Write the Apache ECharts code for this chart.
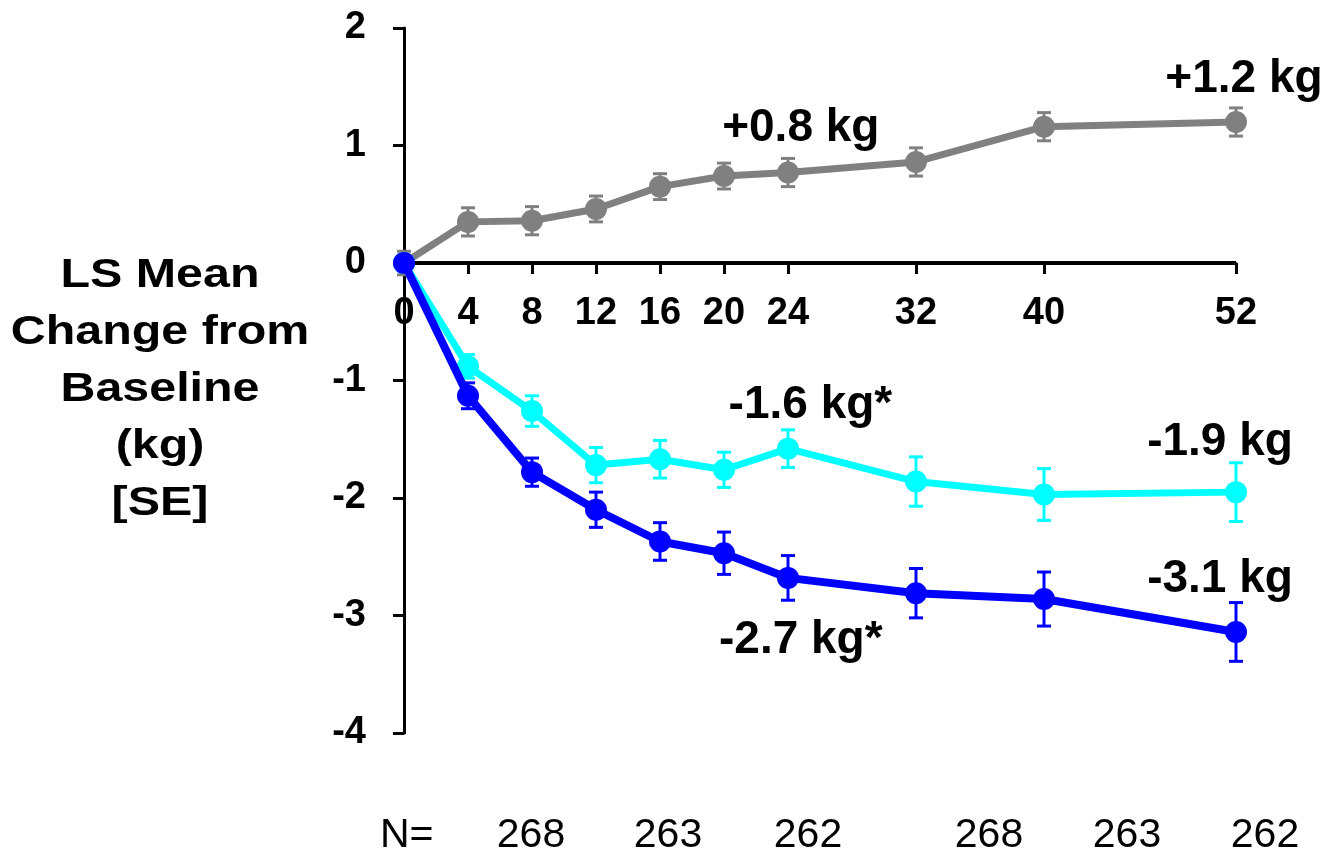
<!DOCTYPE html>
<html>
<head>
<meta charset="utf-8">
<script src="https://cdn.jsdelivr.net/npm/echarts@6/dist/echarts.min.js"></script>
<style>html,body{margin:0;padding:0;background:#fff;}#c{width:1330px;height:857px;}</style>
</head>
<body>
<div id="c"></div>
<script>
// ---- data ----
const weeks = [0, 4, 8, 12, 16, 20, 24, 32, 40, 52];
const tickWeeks = [0, 4, 8, 12, 16, 20, 24, 32, 40, 52];
const grayMean = [0, 0.35, 0.36, 0.46, 0.65, 0.74, 0.77, 0.86, 1.16, 1.20];
const graySE   = [0.1, 0.12, 0.12, 0.11, 0.11, 0.11, 0.12, 0.12, 0.12, 0.12];
const cyanMean = [0, -0.88, -1.26, -1.72, -1.67, -1.76, -1.58, -1.86, -1.97, -1.95];
const cyanSE   = [0, 0.10, 0.13, 0.15, 0.16, 0.15, 0.16, 0.21, 0.22, 0.25];
const blueMean = [0, -1.13, -1.78, -2.10, -2.37, -2.47, -2.68, -2.81, -2.86, -3.14];
const blueSE   = [0, 0.11, 0.12, 0.15, 0.16, 0.18, 0.19, 0.21, 0.23, 0.25];
// annotations: [week, value, text]
const annotations = [
  [24.8, 1.15, '+0.8 kg'],
  [52.5, 1.56, '+1.2 kg'],
  [25.4, -1.21, '-1.6 kg*'],
  [51.0, -1.53, '-1.9 kg'],
  [51.0, -2.69, '-3.1 kg'],
  [24.8, -3.21, '-2.7 kg*']
];
const yTitle = ['LS Mean', 'Change from', 'Baseline', '(kg)', '[SE]'];
const nLabel = 'N=';
const nValues = ['268', '263', '262', '268', '263', '262'];
const weekRange = [0, 52];

const FONT = '"Liberation Sans", Arial, sans-serif';
const colors = {gray: '#808080', cyan: '#00FFFF', blue: '#0000FF'};

function lineSeries(name, mean, color, z, width) {
  return {
    name: name, type: 'line', z: z, xAxisIndex: 0, yAxisIndex: 0,
    data: weeks.map((w, i) => [w, mean[i]]),
    symbol: 'circle', symbolSize: 22, showSymbol: true,
    itemStyle: {color: color},
    lineStyle: {color: color, width: width},
    emphasis: {disabled: true}, silent: true
  };
}
function errSeries(mean, se, color, z) {
  return {
    type: 'custom', z: z, silent: true, xAxisIndex: 0, yAxisIndex: 0,
    data: weeks.map((w, i) => [w, mean[i], se[i]]),
    renderItem: function (params, api) {
      const x = api.value(0), y = api.value(1), s = api.value(2);
      if (!s) return null;
      const t = api.coord([x, y + s]);
      const b = api.coord([x, y - s]);
      const hw = 7;
      const st = {stroke: color, lineWidth: 3};
      return {
        type: 'group',
        children: [
          {type: 'line', shape: {x1: t[0], y1: t[1], x2: b[0], y2: b[1]}, style: st},
          {type: 'line', shape: {x1: t[0] - hw, y1: t[1], x2: t[0] + hw, y2: t[1]}, style: st},
          {type: 'line', shape: {x1: b[0] - hw, y1: b[1], x2: b[0] + hw, y2: b[1]}, style: st}
        ]
      };
    }
  };
}

const Y_MIN = -4, Y_MAX = 2;
const GRID_TOP = 28, GRID_BOTTOM_PX = 733; // layout of plotting area
const zeroPx = GRID_TOP + (GRID_BOTTOM_PX - GRID_TOP) * (Y_MAX - 0) / (Y_MAX - Y_MIN);

const chart = echarts.init(document.getElementById('c'), null, {renderer: 'canvas'});
const option = {
  animation: false,
  backgroundColor: '#ffffff',
  grid: [
    {left: 404, right: 94, top: GRID_TOP, bottom: 857 - GRID_BOTTOM_PX, containLabel: false},
    // auxiliary grid whose bottom edge sits on y = 0, used for the week axis
    {left: 404, right: 94, top: GRID_TOP, bottom: 857 - zeroPx, containLabel: false}
  ],
  xAxis: [
    {
      gridIndex: 0, type: 'value', min: 0, max: 52,
      axisLine: {show: false}, axisTick: {show: false}, axisLabel: {show: false}, splitLine: {show: false}
    },
    {
      gridIndex: 1, type: 'value', min: 0, max: 52, position: 'bottom',
      axisLine: {show: true, onZero: false, lineStyle: {color: '#000', width: 3}},
      axisTick: {show: true, customValues: tickWeeks, length: 11, lineStyle: {color: '#000', width: 3}},
      axisLabel: {show: true, customValues: tickWeeks, margin: 32, color: '#000',
        fontFamily: FONT, fontWeight: 'bold', fontSize: 38},
      splitLine: {show: false}
    }
  ],
  yAxis: [
    {
      gridIndex: 0, type: 'value', min: Y_MIN, max: Y_MAX, interval: 1,
      axisLine: {show: true, onZero: false, lineStyle: {color: '#000', width: 3}},
      axisTick: {show: true, length: 11, lineStyle: {color: '#000', width: 3}},
      axisLabel: {show: true, margin: 38, color: '#000', fontFamily: FONT, fontWeight: 'bold', fontSize: 38},
      splitLine: {show: false}
    },
    {
      gridIndex: 1, type: 'value', min: 0, max: Y_MAX,
      axisLine: {show: false}, axisTick: {show: false}, axisLabel: {show: false}, splitLine: {show: false}
    }
  ],
  series: [
    {
      // horizontal zero line (the week axis line), drawn through the grid's scales
      type: 'custom', z: 1, silent: true, xAxisIndex: 0, yAxisIndex: 0,
      data: [[weekRange[0], weekRange[1], 0]],
      renderItem: function (params, api) {
        const a = api.coord([api.value(0), api.value(2)]);
        const b = api.coord([api.value(1), api.value(2)]);
        return {type: 'line', shape: {x1: a[0], y1: a[1], x2: b[0], y2: b[1]},
          style: {stroke: '#000000', lineWidth: 4}};
      }
    },
    lineSeries('Gray', grayMean, colors.gray, 2, 7),
    errSeries(grayMean, graySE, colors.gray, 3),
    lineSeries('Cyan', cyanMean, colors.cyan, 4, 7),
    errSeries(cyanMean, cyanSE, colors.cyan, 5),
    lineSeries('Blue', blueMean, colors.blue, 6, 8),
    errSeries(blueMean, blueSE, colors.blue, 7)
  ]
};
chart.setOption(option);

// text overlays
const graphics = [];
annotations.forEach(a => {
  const p = chart.convertToPixel({gridIndex: 0}, [a[0], a[1]]);
  graphics.push({
    type: 'text', x: p[0], y: p[1], z: 20, silent: true,
    style: {text: a[2], fill: '#000', font: 'bold 46px ' + FONT, textAlign: 'center', textVerticalAlign: 'middle'}
  });
});
graphics.push({
  type: 'text', x: 160, y: 390, scaleX: 1.21, z: 20, silent: true,
  style: {text: yTitle.join('\n'), fill: '#000', font: 'bold 40px ' + FONT,
    textAlign: 'center', textVerticalAlign: 'middle', lineHeight: 57}
});
graphics.push({
  type: 'text', x: 380, y: 836, z: 20, silent: true,
  style: {text: nLabel, fill: '#000', font: '41px ' + FONT, textAlign: 'left', textVerticalAlign: 'middle'}
});
const nX = [531, 668, 808, 989, 1127, 1265];
nValues.forEach((v, i) => {
  graphics.push({
    type: 'text', x: nX[i], y: 836, z: 20, silent: true,
    style: {text: v, fill: '#000', font: '41px ' + FONT, textAlign: 'center', textVerticalAlign: 'middle'}
  });
});
chart.setOption({graphic: {elements: graphics}});
</script>
</body>
</html>
